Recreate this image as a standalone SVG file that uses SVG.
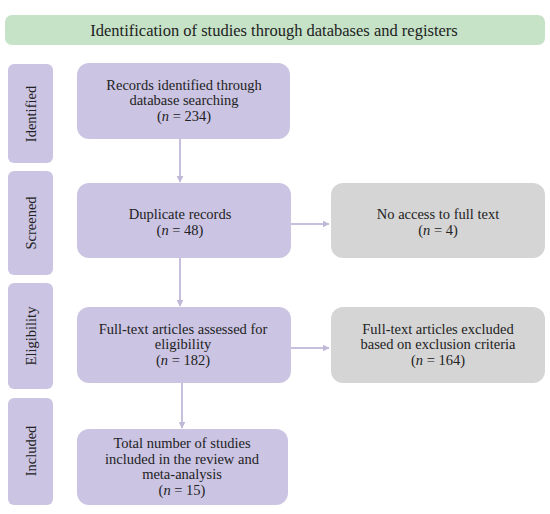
<svg xmlns="http://www.w3.org/2000/svg" width="550" height="514" viewBox="0 0 550 514">
<style>
text{font-family:"Liberation Serif","DejaVu Serif",serif;fill:#222;font-size:14.5px;text-anchor:middle}
.p{fill:#cbc4e3}
.g{fill:#d5d5d5}
.h{fill:#c6e3c8}
.c{stroke:#c6c0de;stroke-width:2;fill:none}
</style>
<defs>
<marker id="ah" viewBox="0 0 10 10" refX="9" refY="5" markerWidth="3.5" markerHeight="3.5" orient="auto">
<path d="M0,0 L10,5 L0,10 z" fill="#c0bad8"/>
</marker>
</defs>
<rect width="550" height="514" fill="#fff"/>
<g id="header"><rect class="h" x="5" y="15" width="540" height="30" rx="7"/><text x="274" y="35.5" style="font-size:16.5px">Identification of studies through databases and registers</text></g>
<g id="lab-identified"><rect class="p" x="8" y="64" width="45" height="99" rx="6"/><text transform="translate(36,114) rotate(-90)">Identified</text></g>
<g id="lab-screened"><rect class="p" x="8" y="171" width="45" height="104" rx="6"/><text transform="translate(36,223) rotate(-90)">Screened</text></g>
<g id="lab-eligibility"><rect class="p" x="8" y="283" width="45" height="106" rx="6"/><text transform="translate(36,336) rotate(-90)">Eligibility</text></g>
<g id="lab-included"><rect class="p" x="8" y="398" width="45" height="107" rx="6"/><text transform="translate(36,451) rotate(-90)">Included</text></g>
<g id="connectors">
<line class="c" x1="180" y1="139" x2="180" y2="182" marker-end="url(#ah)"/>
<line class="c" x1="180" y1="258" x2="180" y2="306" marker-end="url(#ah)"/>
<line class="c" x1="182" y1="383" x2="182" y2="428" marker-end="url(#ah)"/>
<line class="c" x1="291" y1="224" x2="329" y2="224" marker-end="url(#ah)"/>
<line class="c" x1="291" y1="348" x2="329" y2="348" marker-end="url(#ah)"/>
</g>
<g id="n1"><rect class="p" x="77" y="63" width="213" height="76" rx="12"/><text x="184" y="89.5">Records identified through</text><text x="184" y="105">database searching</text><text x="184" y="120.5">(<tspan font-style="italic">n</tspan> = 234)</text></g>
<g id="n2"><rect class="p" x="77" y="183" width="214" height="75" rx="12"/><text x="180" y="219">Duplicate records</text><text x="180" y="235">(<tspan font-style="italic">n</tspan> = 48)</text></g>
<g id="n3"><rect class="g" x="331" y="183" width="214" height="75" rx="12"/><text x="438" y="219">No access to full text</text><text x="438" y="235">(<tspan font-style="italic">n</tspan> = 4)</text></g>
<g id="n4"><rect class="p" x="77" y="307" width="214" height="76" rx="12"/><text x="183" y="333.5">Full-text articles assessed for</text><text x="183" y="349">eligibility</text><text x="183" y="364.5">(<tspan font-style="italic">n</tspan> = 182)</text></g>
<g id="n5"><rect class="g" x="331" y="307" width="214" height="76" rx="12"/><text x="438" y="333.5">Full-text articles excluded</text><text x="438" y="349">based on exclusion criteria</text><text x="438" y="364.5">(<tspan font-style="italic">n</tspan> = 164)</text></g>
<g id="n6"><rect class="p" x="77" y="429" width="211" height="76" rx="12"/><text x="182" y="448">Total number of studies</text><text x="182" y="463.5">included in the review and</text><text x="182" y="479">meta-analysis</text><text x="182" y="494.5">(<tspan font-style="italic">n</tspan> = 15)</text></g>
</svg>
